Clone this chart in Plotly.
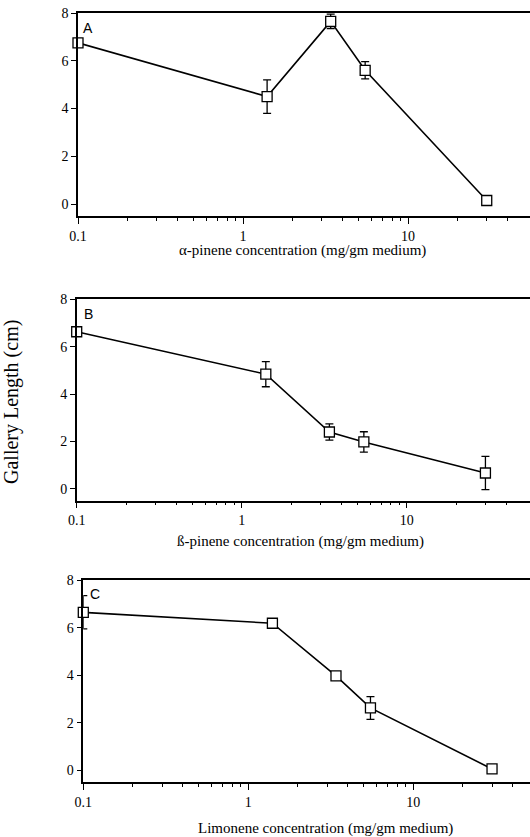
import plotly.graph_objects as go

# ---- data ----
conc = [0.1, 1.4, 3.4, 5.5, 30]
a_len = [6.75, 4.5, 7.65, 5.6, 0.15]
a_err = [0, 0.7, 0.3, 0.36, 0]
b_len = [6.63, 4.84, 2.4, 1.98, 0.67]
b_err = [0, 0.53, 0.34, 0.43, 0.7]
c_len = [6.65, 6.19, 3.97, 2.62, 0.05]
c_err = [0.7, 0, 0, 0.48, 0]

x_tickvals = [0.1, 1, 10]
x_ticktext = ["0.1", "1", "10"]
x_minor = [0.2, 0.3, 0.4, 0.5, 0.6, 0.7, 0.8, 0.9,
           2, 3, 4, 5, 6, 7, 8, 9, 20, 30, 40]
y_tickvals = [0, 2, 4, 6, 8]

panel_labels = ["A", "B", "C"]
x_titles = ["α-pinene concentration (mg/gm medium)",
            "ß-pinene concentration (mg/gm medium)",
            "Limonene concentration (mg/gm medium)"]
y_title = "Gallery Length (cm)"

W, H = 530, 837
SERIF = "Liberation Serif"

fig = go.Figure()

series = [(a_len, a_err), (b_len, b_err), (c_len, c_err)]
# pixel layout: (x of 0.1, y top px, y bottom px)
layout_px = [(78, 13, 216), (76.7, 299.3, 500.7), (83.3, 580.3, 782)]
decade = 165.0
title_y = [250, 541, 828]
title_x = [302, 300, 325]
label_pos = [(88, 28), (88, 314), (95, 594)]

for i, ((ys, es), (x0, yt, yb)) in enumerate(zip(series, layout_px)):
    n = "" if i == 0 else str(i + 1)
    fig.add_trace(go.Scatter(
        x=conc, y=ys, mode="lines+markers",
        line=dict(color="black", width=1.6),
        marker=dict(symbol="square", size=10, color="white",
                    line=dict(color="black", width=1.3)),
        error_y=dict(type="data", array=es, visible=True, color="black",
                     thickness=1.3, width=4),
        xaxis="x" + n, yaxis="y" + n, showlegend=False, cliponaxis=False,
        hoverinfo="skip",
    ))
    xr_end = -1 + (W - x0) / decade
    fig.update_layout(**{
        "xaxis" + n: dict(
            type="log", range=[-1, xr_end], domain=[x0 / W, 1],
            anchor="y" + n, showline=True, linecolor="black", linewidth=1.5,
            mirror=True, ticks="outside", ticklen=6, tickwidth=1.2,
            tickcolor="black", tickvals=x_tickvals, ticktext=x_ticktext,
            showgrid=False, zeroline=False, automargin=False,
            tickfont=dict(family=SERIF, size=14, color="black"),
            minor=dict(tickvals=x_minor, ticks="outside", ticklen=3,
                       tickwidth=1, tickcolor="black", showgrid=False),
        ),
        "yaxis" + n: dict(
            range=[-0.5, 8], domain=[1 - yb / H, 1 - yt / H],
            anchor="x" + n, showline=True, linecolor="black", linewidth=1.5,
            ticks="outside", ticklen=5, tickwidth=1.2, tickcolor="black",
            tickvals=y_tickvals, showgrid=False, zeroline=False,
            automargin=False,
            tickfont=dict(family=SERIF, size=14, color="black"),
        ),
    })
    fig.add_annotation(text=x_titles[i], xref="paper", yref="paper",
                       x=title_x[i] / W, y=1 - title_y[i] / H,
                       xanchor="center", yanchor="middle", showarrow=False,
                       font=dict(family=SERIF, size=15, color="black"))
    lx, ly = label_pos[i]
    fig.add_annotation(text=panel_labels[i], xref="paper", yref="paper",
                       x=lx / W, y=1 - ly / H, xanchor="center",
                       yanchor="middle", showarrow=False,
                       font=dict(family="Liberation Sans", size=14,
                                 color="black"))

fig.add_annotation(text=y_title, xref="paper", yref="paper",
                   x=11 / W, y=1 - 402 / H, xanchor="center", yanchor="middle",
                   textangle=-90, showarrow=False,
                   font=dict(family=SERIF, size=20, color="black"))

fig.update_layout(width=W, height=H, margin=dict(l=0, r=0, t=0, b=0),
                  paper_bgcolor="white", plot_bgcolor="white")

fig.write_html("out.html", config={"displayModeBar": False},
               post_script="document.body.style.margin='0px';"
                           "document.body.style.overflow='hidden';")
